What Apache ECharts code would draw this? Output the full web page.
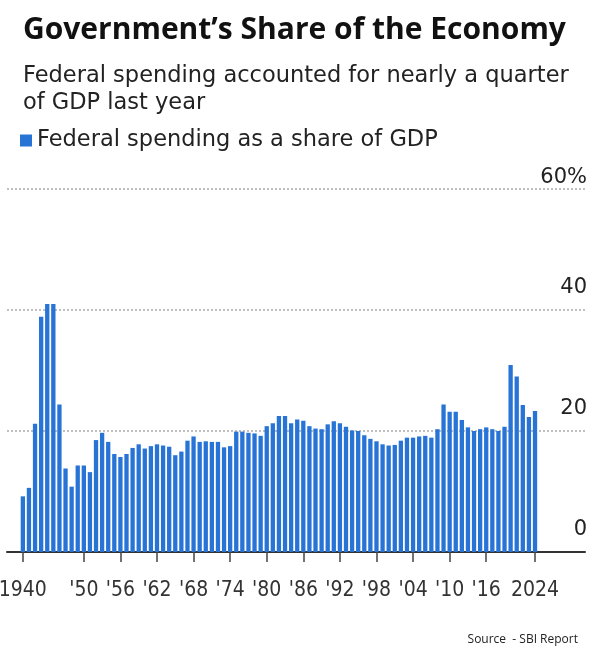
<!DOCTYPE html>
<html>
<head>
<meta charset="utf-8">
<script src="https://cdn.jsdelivr.net/npm/echarts@6/dist/echarts.min.js"></script>
<style>
  html, body { margin: 0; padding: 0; background: #fff; }
  #chart { width: 600px; height: 661px; }
</style>
</head>
<body>
<div id="chart"></div>
<script>
// Data
const years = [];
for (let y = 1940; y <= 2024; y++) years.push(y);
const spendingShare = [
  9.2, 10.6, 21.2, 38.9, 41.0, 41.0, 24.4, 13.8, 10.8, 14.3,
  14.3, 13.2, 18.5, 19.7, 18.2, 16.2, 15.7, 16.2, 17.2, 17.8,
  17.1, 17.5, 17.8, 17.6, 17.4, 16.0, 16.6, 18.4, 19.1, 18.2,
  18.3, 18.2, 18.2, 17.3, 17.5, 19.9, 19.9, 19.7, 19.6, 19.2,
  20.8, 21.3, 22.5, 22.5, 21.3, 21.9, 21.7, 20.8, 20.4, 20.3,
  21.1, 21.6, 21.3, 20.7, 20.1, 20.0, 19.3, 18.7, 18.3, 17.8,
  17.6, 17.7, 18.4, 18.9, 18.9, 19.1, 19.2, 18.9, 20.3, 24.4,
  23.2, 23.2, 21.8, 20.6, 20.0, 20.3, 20.6, 20.3, 20.0, 20.7,
  30.9, 29.0, 24.3, 22.3, 23.3
];
const tickYears = [1940, 1950, 1956, 1962, 1968, 1974, 1980, 1986, 1992, 1998, 2004, 2010, 2016, 2024];
const tickLabels = ['1940', "'50", "'56", "'62", "'68", "'74", "'80", "'86", "'92", "'98", "'04", "'10", "'16", '2024'];
const yTicks = [0, 20, 40, 60];
const yTickLabels = ['0', '20', '40', '60%'];

const chart = echarts.init(document.getElementById('chart'));
const barData = years.map((y, i) => [y, spendingShare[i]]);

chart.setOption({
  animation: false,
  backgroundColor: '#ffffff',
  title: [
    {
      text: 'Government\u2019s Share of the Economy',
      left: 18, top: 10,
      textStyle: { fontFamily: 'Open Sans', fontWeight: 700, fontSize: 30, color: '#111' }
    },
    {
      text: 'Federal spending accounted for nearly a quarter\nof GDP last year',
      left: 18, top: 58,
      textStyle: { fontFamily: 'DejaVu Sans', fontWeight: 400, fontSize: 22.5, lineHeight: 27, color: '#222' }
    },
    {
      text: 'Source  - SBI Report',
      right: 17, top: 629,
      textStyle: { fontFamily: 'Open Sans', fontWeight: 400, fontSize: 12, color: '#222' }
    }
  ],
  legend: {
    left: 15, top: 124,
    icon: 'rect', itemWidth: 12, itemHeight: 12, itemGap: 6,
    textStyle: { fontFamily: 'DejaVu Sans', fontSize: 22.5, color: '#222' },
    data: ['Federal spending as a share of GDP']
  },
  grid: { left: 7, right: 15, top: 189, bottom: 109, containLabel: false, outerBoundsMode: 'none' },
  xAxis: {
    type: 'value',
    min: 1937.4, max: 2032.2,
    splitLine: { show: false },
    axisLine: { show: true, onZero: false, lineStyle: { color: '#333', width: 2 } },
    axisTick: { show: true, customValues: tickYears, length: 10, lineStyle: { color: '#444', width: 1.5 } },
    axisLabel: {
      customValues: tickYears,
      margin: 28,
      fontStyle: 'condensed',
      fontFamily: 'DejaVu Sans', fontSize: 21, color: '#333',
      hideOverlap: false,
      formatter: v => tickLabels[tickYears.indexOf(Math.round(v))] || ''
    }
  },
  yAxis: {
    type: 'value',
    position: 'right',
    min: 0, max: 60, interval: 20,
    axisLine: { show: false },
    axisTick: { show: false },
    splitLine: { show: true, lineStyle: { color: '#aaa', type: [2, 2], width: 1.5 } },
    axisLabel: {
      inside: true,
      margin: -2,
      align: 'right',
      verticalAlign: 'bottom',
      fontFamily: 'DejaVu Sans', fontSize: 21, color: '#222',
      formatter: v => (v === 60 ? '{top|' : '{low|') + yTickLabels[yTicks.indexOf(v)] + '}',
      rich: {
        top: { fontFamily: 'DejaVu Sans', fontSize: 21, color: '#222', padding: [0, 0, 1, 0] },
        low: { fontFamily: 'DejaVu Sans', fontSize: 21, color: '#222', padding: [0, 0, 12, 0] }
      }
    }
  },
  series: [{
    name: 'Federal spending as a share of GDP',
    type: 'bar',
    data: barData,
    barWidth: 4.3,
    itemStyle: { color: '#2774d6' }
  }]
});
</script>
</body>
</html>
